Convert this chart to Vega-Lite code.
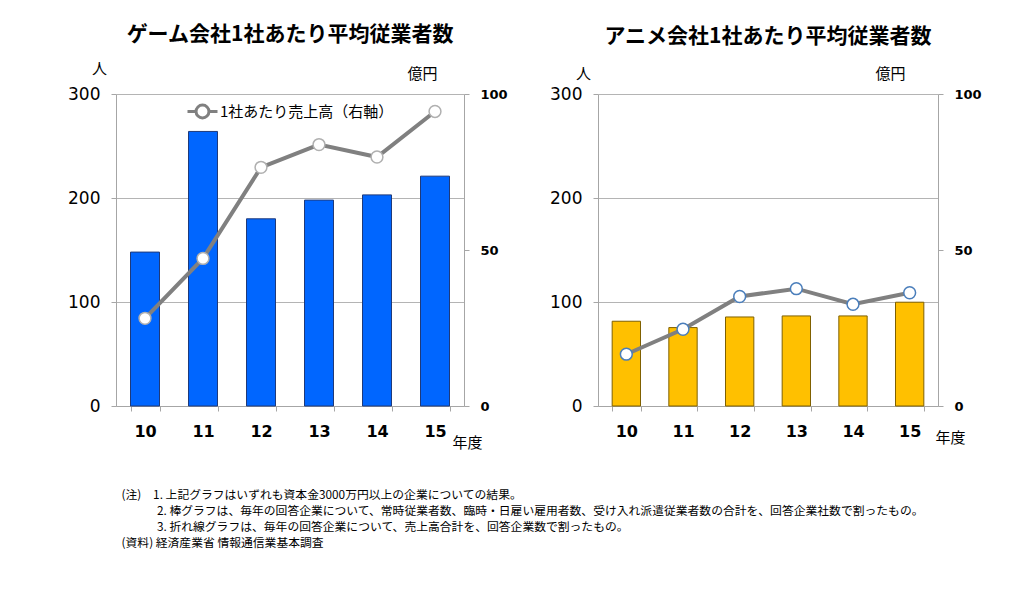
{
  "$schema": "https://vega.github.io/schema/vega-lite/v6.json",
  "background": "white",
  "padding": {"left": 67, "top": 24, "right": 5, "bottom": 5},
  "datasets": {
    "game": [
      {"year": "10", "employees": 148, "sales": 28.1},
      {"year": "11", "employees": 264, "sales": 47.3},
      {"year": "12", "employees": 180, "sales": 76.5},
      {"year": "13", "employees": 198, "sales": 83.8},
      {"year": "14", "employees": 203, "sales": 79.8},
      {"year": "15", "employees": 221, "sales": 94.4}
    ],
    "anime": [
      {"year": "10", "employees": 81.5, "sales": 16.6},
      {"year": "11", "employees": 75.4, "sales": 24.6},
      {"year": "12", "employees": 85.6, "sales": 35.1},
      {"year": "13", "employees": 86.6, "sales": 37.6},
      {"year": "14", "employees": 86.6, "sales": 32.6},
      {"year": "15", "employees": 99.8, "sales": 36.3}
    ]
  },
  "title": {
    "text": [
      "(注)　1. 上記グラフはいずれも資本金3000万円以上の企業についての結果。",
      "\u200b　　　2. 棒グラフは、毎年の回答企業について、常時従業者数、臨時・日雇い雇用者数、受け入れ派遣従業者数の合計を、回答企業社数で割ったもの。",
      "\u200b　　　3. 折れ線グラフは、毎年の回答企業について、売上高合計を、回答企業数で割ったもの。",
      "(資料) 経済産業省  情報通信業基本調査"
    ],
    "orient": "bottom",
    "anchor": "start",
    "frame": "bounds",
    "align": "left",
    "font": "Noto Sans CJK JP",
    "fontSize": 11.8,
    "fontWeight": "normal",
    "lineHeight": 16,
    "color": "#000",
    "offset": 40,
    "dx": 54
  },
  "bounds": "flush",
  "spacing": 134,
  "hconcat": [
    {
      "width": 348,
      "height": 312,
      "data": {"name": "game"},
      "title": {"text": "ゲーム会社1社あたり平均従業者数", "font": "Noto Sans CJK JP", "fontSize": 21, "fontWeight": "bold", "color": "#000", "anchor": "middle", "offset": 16},
      "encoding": {
        "x": {"field": "year", "type": "ordinal", "scale": {"paddingInner": 0.5, "paddingOuter": 0.25},
          "axis": {"labelAngle": 0, "labelFontSize": 16, "labelFontWeight": "bold", "labelPadding": 12, "tickBand": "extent", "grid": false,
            "title": "年度", "titleX": 351, "titleY": 36, "titleAlign": "center", "titleBaseline": "middle"}}
      },
      "layer": [
        {
          "mark": {"type": "bar", "color": "#0066ff", "stroke": "#1f3a7a", "strokeWidth": 1},
          "encoding": {
            "y": {"field": "employees", "type": "quantitative", "scale": {"domain": [0, 300]},
              "axis": {"values": [0, 100, 200, 300], "grid": true, "labelFontSize": 17, "labelPadding": 11,
                "title": "人", "titleAngle": 0, "titleX": -17, "titleY": -26, "titleAlign": "center", "titleBaseline": "middle"}}
          }
        },
        {
          "encoding": {
            "y": {"field": "sales", "type": "quantitative", "scale": {"domain": [0, 100]},
              "axis": {"orient": "right", "values": [0, 50, 100], "grid": false, "labelFontSize": 13, "labelFontWeight": "bold", "labelPadding": 11,
                "title": "億円", "titleAngle": 0, "titleX": -42, "titleY": -21, "titleAlign": "center", "titleBaseline": "middle"}}
          },
          "layer": [
            {
              "mark": {"type": "line", "strokeWidth": 4},
              "encoding": {
                "color": {"datum": "1社あたり売上高（右軸）", "scale": {"range": ["#808080"]},
                  "legend": {"orient": "none", "legendX": 70, "legendY": 1, "title": null,
                    "symbolType": "M-1,0L-0.43,0M0.43,0L1,0M0.43,0A0.43,0.43,0,1,1,-0.43,0A0.43,0.43,0,1,1,0.43,0",
                    "symbolSize": 900, "symbolStrokeWidth": 3, "symbolFillColor": "white", "symbolStrokeColor": "#808080",
                    "labelFont": "Noto Sans CJK JP", "labelFontSize": 15, "labelColor": "#000", "labelOffset": 1, "labelLimit": 400}}
              }
            },
            {
              "mark": {"type": "point", "shape": "circle", "filled": true, "fill": "white", "stroke": "#b0b0b0", "strokeWidth": 1.5, "size": 140, "opacity": 1},
              "encoding": {}
            }
          ]
        }
      ],
      "resolve": {"scale": {"y": "independent"}}
    },
    {
      "width": 340,
      "height": 312,
      "data": {"name": "anime"},
      "title": {"text": "アニメ会社1社あたり平均従業者数", "font": "Noto Sans CJK JP", "fontSize": 21, "fontWeight": "bold", "color": "#000", "anchor": "middle", "offset": 19},
      "encoding": {
        "x": {"field": "year", "type": "ordinal", "scale": {"paddingInner": 0.5, "paddingOuter": 0.25},
          "axis": {"labelAngle": 0, "labelFontSize": 16, "labelFontWeight": "bold", "labelPadding": 12, "tickBand": "extent", "grid": false,
            "title": "年度", "titleX": 352, "titleY": 31, "titleAlign": "center", "titleBaseline": "middle"}}
      },
      "layer": [
        {
          "mark": {"type": "bar", "color": "#ffc000", "stroke": "#7f6000", "strokeWidth": 1},
          "encoding": {
            "y": {"field": "employees", "type": "quantitative", "scale": {"domain": [0, 300]},
              "axis": {"values": [0, 100, 200, 300], "grid": true, "labelFontSize": 17, "labelPadding": 11,
                "title": "人", "titleAngle": 0, "titleX": -15, "titleY": -21, "titleAlign": "center", "titleBaseline": "middle"}}
          }
        },
        {
          "encoding": {
            "y": {"field": "sales", "type": "quantitative", "scale": {"domain": [0, 100]},
              "axis": {"orient": "right", "values": [0, 50, 100], "grid": false, "labelFontSize": 13, "labelFontWeight": "bold", "labelPadding": 11,
                "title": "億円", "titleAngle": 0, "titleX": -48, "titleY": -21, "titleAlign": "center", "titleBaseline": "middle"}}
          },
          "layer": [
            {
              "mark": {"type": "line", "strokeWidth": 4},
              "encoding": {
                "color": {"datum": "1社あたり売上高（右軸）", "scale": {"range": ["#808080"]},
                  "legend": {"orient": "none", "legendX": 81, "legendY": 1, "title": null,
                    "symbolType": "M-1,0L-0.43,0M0.43,0L1,0M0.43,0A0.43,0.43,0,1,1,-0.43,0A0.43,0.43,0,1,1,0.43,0",
                    "symbolSize": 900, "symbolStrokeWidth": 3, "symbolFillColor": "white", "symbolStrokeColor": "#808080",
                    "labelFont": "Noto Sans CJK JP", "labelFontSize": 15, "labelColor": "#000", "labelOffset": 1, "labelLimit": 400}}
              }
            },
            {
              "mark": {"type": "point", "shape": "circle", "filled": true, "fill": "white", "stroke": "#4a7ebb", "strokeWidth": 1.5, "size": 140, "opacity": 1},
              "encoding": {}
            }
          ]
        }
      ],
      "resolve": {"scale": {"y": "independent"}}
    }
  ],
  "config": {
    "view": {"stroke": null},
    "font": "Noto Sans CJK JP",
    "axis": {
      "domainColor": "#a6a6a6",
      "tickColor": "#a6a6a6",
      "gridColor": "#b4b4b4",
      "labelColor": "#000",
      "titleColor": "#000",
      "labelFont": "DejaVu Sans",
      "titleFont": "Noto Sans CJK JP",
      "titleFontWeight": "normal",
      "titleFontSize": 15,
      "tickSize": 5
    }
  }
}
